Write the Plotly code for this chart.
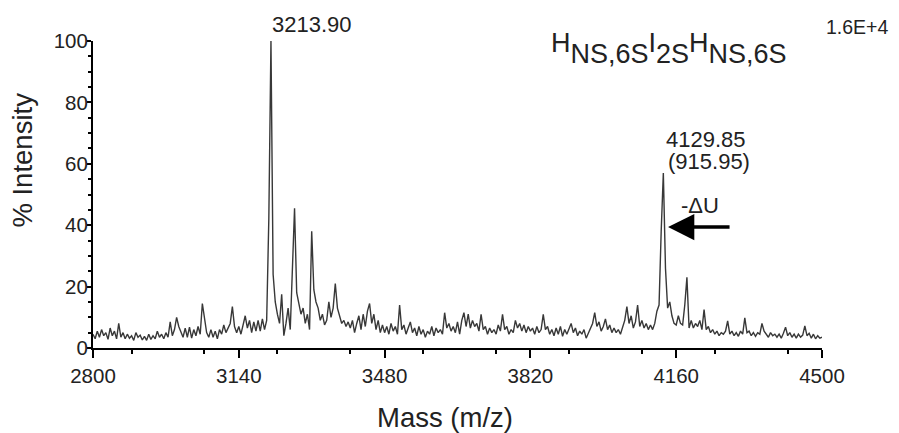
import plotly.graph_objects as go

MASS_START = 2800
MASS_STEP = 5
intensity = [
    4.5, 3, 5.5, 3.5, 6, 4, 5, 2.8, 6.5, 4, 5.5, 3, 8, 3.5, 5, 3, 4.5, 3.2, 4, 2.5,
    5, 3.5, 4.2, 2.6, 3.8, 2.5, 4.5, 2.8, 4, 3, 5.5, 3.5, 4.5, 3, 5, 3.5, 8.5, 4, 6, 10,
    7, 5.5, 3.5, 6.5, 3.5, 6.8, 3.2, 6, 4, 7, 4.5, 14.5, 9, 5, 3.5, 6, 3.5, 5.5, 3, 6,
    4.5, 7.5, 5, 6.5, 8, 13.5, 7, 5, 7, 4.5, 8, 10.5, 6.5, 9, 5, 8.5, 5.5, 9, 5.5, 9.5,
    6, 9, 42, 100, 24, 15, 11, 8, 17.5, 4, 8, 13, 6, 24, 45.5, 18, 14, 11, 13, 8,
    11, 6, 38, 19, 15, 13, 9, 11, 7.5, 9, 15, 10, 13, 21, 13, 10.5, 8, 9, 7, 8.5,
    6.5, 9, 5, 8, 10.5, 6, 11, 7, 12, 14.5, 8, 11, 6, 9, 5, 7.5, 5, 7, 4.5, 8,
    5.5, 7, 4.5, 14, 6, 7.5, 4.5, 6.5, 8.5, 5, 6.5, 4, 7, 4.5, 6, 3.5, 5.5, 4.5, 7, 4,
    6.5, 5, 6, 4.5, 11.5, 6.5, 8, 5.5, 7, 5, 8.5, 4.5, 9, 11.5, 7, 11, 6.5, 9, 7, 8,
    5.5, 11, 6, 7, 4.5, 6.5, 5, 6, 4.5, 7.5, 5.5, 11, 6, 7, 4.5, 6, 5, 9, 6.5, 8,
    5.5, 7.5, 5, 7, 5.5, 6.5, 4.5, 7, 5, 6, 11, 6, 7, 4.5, 6, 4, 6.5, 4.5, 7, 3.8,
    6, 4.5, 6.5, 8, 5, 6.5, 4, 5.5, 4.5, 6, 3.2, 5, 6.5, 8, 11.5, 7, 8.5, 5.5, 7, 9.5,
    6, 7.5, 5, 6.5, 5, 6, 4.5, 7, 9, 13.5, 8, 10.5, 6.5, 8.5, 14, 7, 9, 6.5, 8, 6,
    7.5, 6, 8, 12, 14, 38, 57, 26, 13, 15, 10.5, 8, 7.5, 10.5, 8, 7.5, 14, 23, 6.5, 9,
    6.5, 8, 7, 9, 6, 12.5, 6, 7, 5, 6, 4.5, 5.5, 4, 5, 4.5, 5.5, 8.8, 4.5, 5.5, 4,
    5, 3.8, 5.5, 4.5, 9.8, 5, 5.5, 4, 5, 3.8, 5, 4.5, 8, 5.5, 4.5, 3.5, 5, 4, 4.5, 3.5,
    4.5, 3.2, 4.8, 6.8, 4, 5, 3.5, 4.5, 3.2, 4.5, 3.5, 4.2, 7.2, 4, 4.8, 3.2, 4.5, 3, 4, 3.2, 3.5,
]

x_ticks = [2800, 3140, 3480, 3820, 4160, 4500]
counts_max = 16000

FONT = "Liberation Sans, Arial, sans-serif"
BLACK = "#000000"

fig = go.Figure()
fig.add_trace(go.Scatter(
    x0=MASS_START,
    dx=MASS_STEP,
    y=intensity,
    mode="lines",
    line=dict(color="#383838", width=1.4),
    showlegend=False,
    hoverinfo="skip",
))

# the page body adds an 8px margin, so the figure is 8px smaller than the window
fig.update_layout(
    width=891,
    height=425,
    paper_bgcolor="white",
    plot_bgcolor="white",
    margin=dict(l=85, r=77, t=33, b=85),
    font=dict(family=FONT, size=20.5, color="#222222"),
    xaxis=dict(
        range=[2800, 4500],
        tickvals=x_ticks,
        ticks="outside",
        ticklen=8,
        tickwidth=1.5,
        tickcolor=BLACK,
        minor=dict(dtick=170, ticks="outside", ticklen=4, tickwidth=1.5, tickcolor=BLACK),
        showline=True,
        linewidth=2,
        linecolor=BLACK,
        showgrid=False,
        zeroline=False,
        automargin=False,
    ),
    yaxis=dict(
        range=[0, 100],
        dtick=20,
        ticks="outside",
        ticklen=4,
        tickwidth=1.5,
        tickcolor=BLACK,
        ticklabelstandoff=-5,
        minor=dict(dtick=5, ticks="outside", ticklen=3, tickwidth=1.5, tickcolor=BLACK),
        showline=True,
        linewidth=2,
        linecolor=BLACK,
        showgrid=False,
        zeroline=False,
        automargin=False,
    ),
    yaxis2=dict(
        overlaying="y",
        side="right",
        range=[0, counts_max],
        tickvals=[0, counts_max],
        ticktext=["0", ""],
        ticks="outside",
        ticklen=4,
        tickwidth=1.5,
        tickcolor=BLACK,
        showline=True,
        linewidth=2,
        linecolor=BLACK,
        showgrid=False,
        zeroline=False,
        automargin=False,
    ),
)

# axis titles (placed as in the original, slightly off-centre)
fig.add_annotation(xref="paper", yref="paper", x=0.483, y=-0.228, text="Mass (m/z)",
                   showarrow=False, xanchor="center", yanchor="middle",
                   font=dict(size=27.5))
fig.add_annotation(xref="paper", yref="paper", x=-0.0967, y=0.612, text="% Intensity",
                   showarrow=False, textangle=-90, xanchor="center", yanchor="middle",
                   font=dict(size=27.5))

# peak labels
fig.add_annotation(xref="x", yref="paper", x=3213.9, y=1.055, text="3213.90",
                   showarrow=False, xanchor="left", yanchor="middle", font=dict(size=22))
fig.add_annotation(x=4229.6, y=67.8, text="4129.85", showarrow=False,
                   xanchor="center", yanchor="middle", font=dict(size=22))
fig.add_annotation(x=4235.4, y=60.6, text="(915.95)", showarrow=False,
                   xanchor="center", yanchor="middle", font=dict(size=22))
fig.add_annotation(x=4215.5, y=46.3, text="-ΔU", showarrow=False,
                   xanchor="center", yanchor="middle", font=dict(size=22))
fig.add_annotation(x=4141, y=39.4, text="", showarrow=True, ax=63, ay=0,
                   arrowhead=2, arrowsize=1.5, arrowwidth=3.5, arrowcolor=BLACK)

# glycan composition label
big = "<span style='font-size:27px'>{}</span>"
formula = ("<sup>" + big.format("H") + "</sup>NS,6S"
           "<sup>" + big.format("I") + "</sup>2S"
           "<sup>" + big.format("H") + "</sup>NS,6S")
fig.add_annotation(xref="paper", yref="paper", x=0.626, y=0.974, text=formula,
                   showarrow=False, xanchor="left", yanchor="middle",
                   font=dict(size=27))

# right-axis top label sits above its tick
fig.add_annotation(xref="paper", yref="paper", x=1.003, y=1.046, text="1.6E+4",
                   showarrow=False, xanchor="left", yanchor="middle",
                   font=dict(size=19.5))

fig.write_html("out.html")
